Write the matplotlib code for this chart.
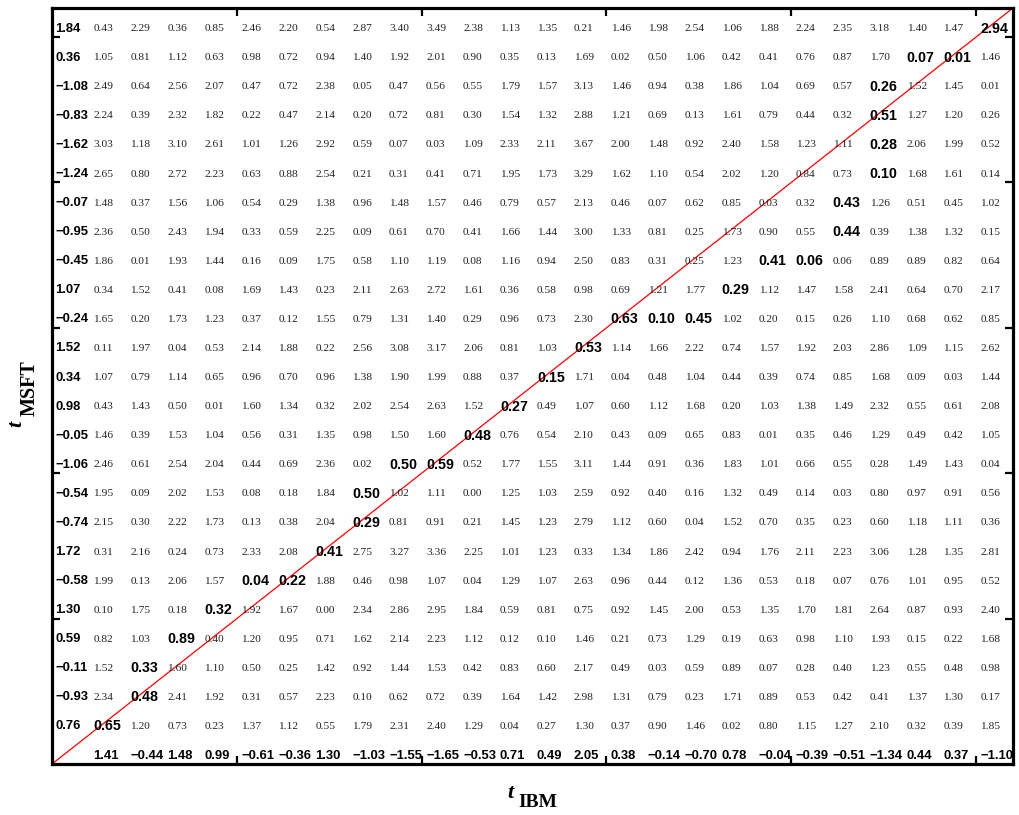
import numpy as np
import matplotlib
matplotlib.use('Agg')
import matplotlib.pyplot as plt

# series values (rows top->bottom, columns left->right)
msft = [1.84, 0.36, -1.08, -0.83, -1.62, -1.24, -0.07, -0.95, -0.45, 1.07, -0.24, 1.52, 0.34,
        0.98, -0.05, -1.06, -0.54, -0.74, 1.72, -0.58, 1.30, 0.59, -0.11, -0.93, 0.76]
ibm = [1.41, -0.44, 1.48, 0.99, -0.61, -0.36, 1.30, -1.03, -1.55, -1.65, -0.53, 0.71, 0.49,
       2.05, 0.38, -0.14, -0.70, 0.78, -0.04, -0.39, -0.51, -1.34, 0.44, 0.37, -1.10]

# distance matrix as printed, one line per MSFT row
dist_txt = """
0.43 2.29 0.36 0.85 2.46 2.20 0.54 2.87 3.40 3.49 2.38 1.13 1.35 0.21 1.46 1.98 2.54 1.06 1.88 2.24 2.35 3.18 1.40 1.47 2.94
1.05 0.81 1.12 0.63 0.98 0.72 0.94 1.40 1.92 2.01 0.90 0.35 0.13 1.69 0.02 0.50 1.06 0.42 0.41 0.76 0.87 1.70 0.07 0.01 1.46
2.49 0.64 2.56 2.07 0.47 0.72 2.38 0.05 0.47 0.56 0.55 1.79 1.57 3.13 1.46 0.94 0.38 1.86 1.04 0.69 0.57 0.26 1.52 1.45 0.01
2.24 0.39 2.32 1.82 0.22 0.47 2.14 0.20 0.72 0.81 0.30 1.54 1.32 2.88 1.21 0.69 0.13 1.61 0.79 0.44 0.32 0.51 1.27 1.20 0.26
3.03 1.18 3.10 2.61 1.01 1.26 2.92 0.59 0.07 0.03 1.09 2.33 2.11 3.67 2.00 1.48 0.92 2.40 1.58 1.23 1.11 0.28 2.06 1.99 0.52
2.65 0.80 2.72 2.23 0.63 0.88 2.54 0.21 0.31 0.41 0.71 1.95 1.73 3.29 1.62 1.10 0.54 2.02 1.20 0.84 0.73 0.10 1.68 1.61 0.14
1.48 0.37 1.56 1.06 0.54 0.29 1.38 0.96 1.48 1.57 0.46 0.79 0.57 2.13 0.46 0.07 0.62 0.85 0.03 0.32 0.43 1.26 0.51 0.45 1.02
2.36 0.50 2.43 1.94 0.33 0.59 2.25 0.09 0.61 0.70 0.41 1.66 1.44 3.00 1.33 0.81 0.25 1.73 0.90 0.55 0.44 0.39 1.38 1.32 0.15
1.86 0.01 1.93 1.44 0.16 0.09 1.75 0.58 1.10 1.19 0.08 1.16 0.94 2.50 0.83 0.31 0.25 1.23 0.41 0.06 0.06 0.89 0.89 0.82 0.64
0.34 1.52 0.41 0.08 1.69 1.43 0.23 2.11 2.63 2.72 1.61 0.36 0.58 0.98 0.69 1.21 1.77 0.29 1.12 1.47 1.58 2.41 0.64 0.70 2.17
1.65 0.20 1.73 1.23 0.37 0.12 1.55 0.79 1.31 1.40 0.29 0.96 0.73 2.30 0.63 0.10 0.45 1.02 0.20 0.15 0.26 1.10 0.68 0.62 0.85
0.11 1.97 0.04 0.53 2.14 1.88 0.22 2.56 3.08 3.17 2.06 0.81 1.03 0.53 1.14 1.66 2.22 0.74 1.57 1.92 2.03 2.86 1.09 1.15 2.62
1.07 0.79 1.14 0.65 0.96 0.70 0.96 1.38 1.90 1.99 0.88 0.37 0.15 1.71 0.04 0.48 1.04 0.44 0.39 0.74 0.85 1.68 0.09 0.03 1.44
0.43 1.43 0.50 0.01 1.60 1.34 0.32 2.02 2.54 2.63 1.52 0.27 0.49 1.07 0.60 1.12 1.68 0.20 1.03 1.38 1.49 2.32 0.55 0.61 2.08
1.46 0.39 1.53 1.04 0.56 0.31 1.35 0.98 1.50 1.60 0.48 0.76 0.54 2.10 0.43 0.09 0.65 0.83 0.01 0.35 0.46 1.29 0.49 0.42 1.05
2.46 0.61 2.54 2.04 0.44 0.69 2.36 0.02 0.50 0.59 0.52 1.77 1.55 3.11 1.44 0.91 0.36 1.83 1.01 0.66 0.55 0.28 1.49 1.43 0.04
1.95 0.09 2.02 1.53 0.08 0.18 1.84 0.50 1.02 1.11 0.00 1.25 1.03 2.59 0.92 0.40 0.16 1.32 0.49 0.14 0.03 0.80 0.97 0.91 0.56
2.15 0.30 2.22 1.73 0.13 0.38 2.04 0.29 0.81 0.91 0.21 1.45 1.23 2.79 1.12 0.60 0.04 1.52 0.70 0.35 0.23 0.60 1.18 1.11 0.36
0.31 2.16 0.24 0.73 2.33 2.08 0.41 2.75 3.27 3.36 2.25 1.01 1.23 0.33 1.34 1.86 2.42 0.94 1.76 2.11 2.23 3.06 1.28 1.35 2.81
1.99 0.13 2.06 1.57 0.04 0.22 1.88 0.46 0.98 1.07 0.04 1.29 1.07 2.63 0.96 0.44 0.12 1.36 0.53 0.18 0.07 0.76 1.01 0.95 0.52
0.10 1.75 0.18 0.32 1.92 1.67 0.00 2.34 2.86 2.95 1.84 0.59 0.81 0.75 0.92 1.45 2.00 0.53 1.35 1.70 1.81 2.64 0.87 0.93 2.40
0.82 1.03 0.89 0.40 1.20 0.95 0.71 1.62 2.14 2.23 1.12 0.12 0.10 1.46 0.21 0.73 1.29 0.19 0.63 0.98 1.10 1.93 0.15 0.22 1.68
1.52 0.33 1.60 1.10 0.50 0.25 1.42 0.92 1.44 1.53 0.42 0.83 0.60 2.17 0.49 0.03 0.59 0.89 0.07 0.28 0.40 1.23 0.55 0.48 0.98
2.34 0.48 2.41 1.92 0.31 0.57 2.23 0.10 0.62 0.72 0.39 1.64 1.42 2.98 1.31 0.79 0.23 1.71 0.89 0.53 0.42 0.41 1.37 1.30 0.17
0.65 1.20 0.73 0.23 1.37 1.12 0.55 1.79 2.31 2.40 1.29 0.04 0.27 1.30 0.37 0.90 1.46 0.02 0.80 1.15 1.27 2.10 0.32 0.39 1.85
"""
dist = np.array([[float(v) for v in line.split()] for line in dist_txt.strip().split('\n')])

# warping path cells (row from top, column from left)
path = [(24, 0), (23, 1), (22, 1), (21, 2), (20, 3), (19, 4), (19, 5), (18, 6), (17, 7), (16, 7),
        (15, 8), (15, 9), (14, 10), (13, 11), (12, 12), (11, 13), (10, 14), (10, 15), (10, 16),
        (9, 17), (8, 18), (8, 19), (7, 20), (6, 20), (5, 21), (4, 21), (3, 21), (2, 21), (1, 22),
        (1, 23), (0, 24)]


def fmt(v):
    return f'{v:.2f}'.replace('-', '\u2212')


n = len(msft)
m = len(ibm)
dx = 0.12
dy = 0.29

W, H = 1020, 815
fig = plt.figure(figsize=(W / 100, H / 100), dpi=100)
ax = fig.add_axes([52 / W, 51 / H, 961 / W, 756 / H])
ax.set_xlim(0, m + 1)
ax.set_ylim(0, n + 1)

on_path = set(path)
for i in range(n):
    y = n - i + dy
    ax.text(0.09, y, fmt(msft[i]), ha='left', va='center', fontsize=9.4,
            fontweight='bold', family='Liberation Sans')
    for j in range(m):
        if (i, j) in on_path:
            ax.text(j + 1 + dx, y, fmt(dist[i, j]), ha='left', va='center', fontsize=10.3,
                    fontweight='bold', family='Liberation Sans')
        else:
            ax.text(j + 1 + dx, y, fmt(dist[i, j]), ha='left', va='center', fontsize=8.2,
                    family='Liberation Serif', color='#222222')
for j in range(m):
    ax.text(j + 1 + dx, dy, fmt(ibm[j]), ha='left', va='center', fontsize=9.4,
            fontweight='bold', family='Liberation Sans')

ax.plot([0, m + 1], [0, n + 1], color='red', lw=0.9)

ticks = [5, 10, 15, 20, 25]
ax.set_xticks(ticks)
ax.set_yticks(ticks)
ax.tick_params(direction='in', length=6, width=1.6, top=True, right=True,
               labelbottom=False, labelleft=False)
for s in ax.spines.values():
    s.set_linewidth(2.3)

# axis labels: italic t with bold subscript
lab = dict(family='Liberation Serif', fontweight='bold', ha='left', va='baseline',
           rotation_mode='anchor')
fig.text(507 / W, 1 - 798 / H, 't', fontsize=16, style='italic', **lab)
fig.text(518 / W, 1 - 807 / H, 'IBM', fontsize=14, **lab)
fig.text(21 / W, 1 - 427 / H, 't', fontsize=16, style='italic', rotation=90, **lab)
fig.text(35 / W, 1 - 416 / H, 'MSFT', fontsize=14.5, rotation=90, **lab)

fig.savefig('out.png', dpi=100)
